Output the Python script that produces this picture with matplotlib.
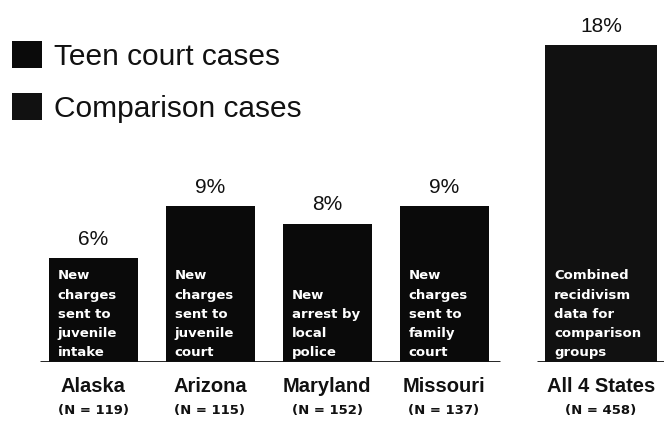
''' teen court recidivism bar chart '''
import matplotlib.pyplot as plt

states = ['Alaska', 'Arizona', 'Maryland', 'Missouri']
sample_sizes = ['(N = 119)', '(N = 115)', '(N = 152)', '(N = 137)']
teen_pct = [6, 9, 8, 9]
measures = ['New\ncharges\nsent to\njuvenile\nintake',
            'New\ncharges\nsent to\njuvenile\ncourt',
            'New\narrest by\nlocal\npolice',
            'New\ncharges\nsent to\nfamily\ncourt']
all_label = 'All 4 States'
all_n = '(N = 458)'
comparison_pct = 18.3
comparison_note = 'Combined\nrecidivism\ndata for\ncomparison\ngroups'


def main():
    ''' main function '''
    fig = plt.figure(figsize=(6.64, 4.22), dpi=100)
    ax = fig.add_axes([0, 60 / 422, 1, 346 / 422])
    ax.set_xlim(-93 / 117, (664 - 93) / 117)
    ax.set_ylim(0, 20)
    ax.axis('off')

    xs = list(range(len(states)))
    x_all = (601 - 93) / 117
    w_state = 89 / 117
    w_all = 112 / 117

    teen = ax.bar(xs, teen_pct, width=w_state, color='#0a0a0a',
                  label='Teen court cases')
    comp = ax.bar([x_all], [comparison_pct], width=w_all, color='#111111',
                  label='Comparison cases')

    ax.plot([-0.453, 3.479], [0, 0], color='#111111', lw=2,
            solid_capstyle='butt')
    ax.plot([(537 - 93) / 117, 4.9], [0, 0], color='#111111', lw=2,
            solid_capstyle='butt')

    all_x = xs + [x_all]
    all_vals = teen_pct + [comparison_pct]
    names = states + [all_label]
    ns = sample_sizes + [all_n]
    widths = [w_state] * len(states) + [w_all]
    notes = measures + [comparison_note]
    for x, v, name, n, w, note in zip(all_x, all_vals, names, ns, widths,
                                      notes):
        ax.annotate(f'{round(v)}%', (x, v), xytext=(0, 9.5),
                    textcoords='offset points', ha='center', va='baseline',
                    fontsize=15, family='Liberation Sans', color='#111111')
        ax.annotate(name, (x, 0), xytext=(0, -17.5),
                    textcoords='offset points', ha='center', va='center',
                    fontsize=14.5, family='Liberation Sans',
                    fontweight='bold', color='#111111')
        ax.annotate(n, (x, 0), xytext=(0, -35),
                    textcoords='offset points', ha='center', va='center',
                    fontsize=9.5, family='DejaVu Sans',
                    fontweight='bold', color='#111111')
        ax.annotate(note, (x - w / 2, 0), xytext=(6.5, 2),
                    textcoords='offset points', ha='left', va='bottom',
                    fontsize=9.5, family='DejaVu Sans', fontweight='bold',
                    color='white', linespacing=1.62)

    leg = fig.legend(handles=[teen, comp], loc='upper left',
                     bbox_to_anchor=(12 / 664, 1 - 41 / 422),
                     frameon=False, borderpad=0,
                     borderaxespad=0, handlelength=1.0, handleheight=1.0,
                     handletextpad=0.4, labelspacing=0.75,
                     prop={'family': 'Liberation Sans', 'size': 21.5})
    for t in leg.get_texts():
        t.set_color('#111111')

    fig.savefig('out.png', dpi=100)


if __name__ == '__main__':
    main()
